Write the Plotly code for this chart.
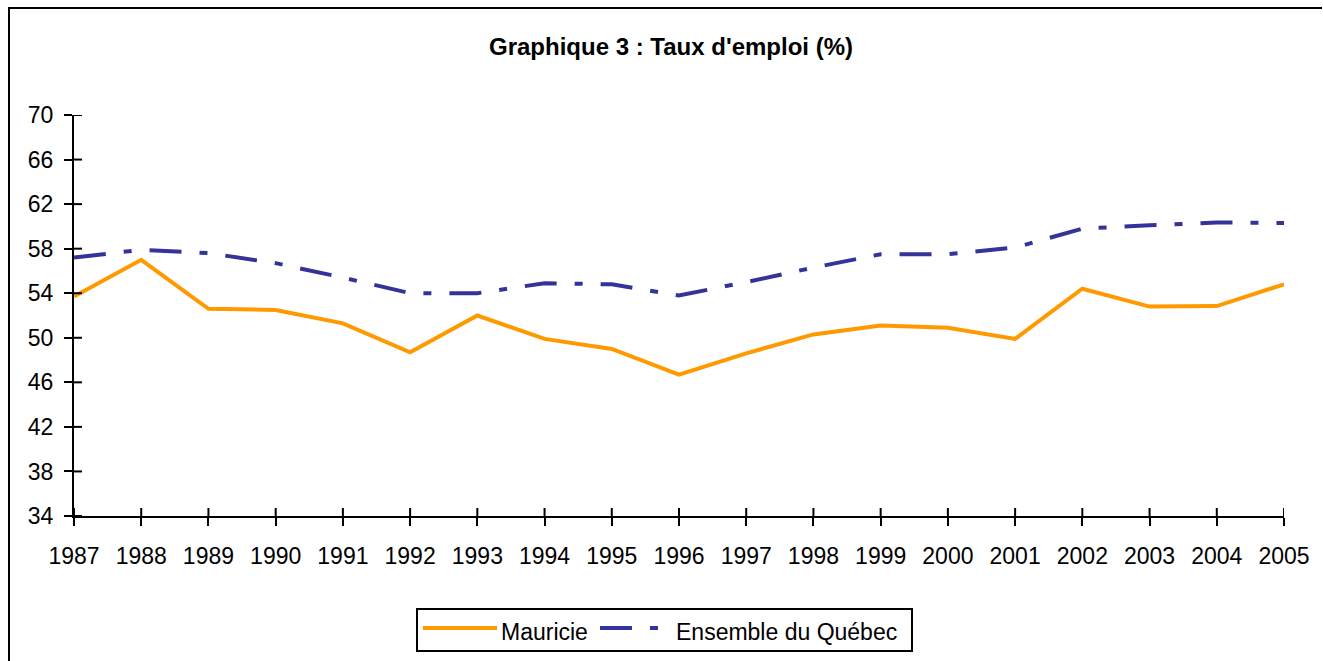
import plotly.graph_objects as go

years = list(range(1987, 2006))
mauricie = [53.7, 57.0, 52.6, 52.5, 51.3, 48.7, 52.0, 49.9, 49.0, 46.7,
            48.6, 50.3, 51.1, 50.9, 49.9, 54.4, 52.8, 52.85, 54.8]
quebec = [57.2, 57.9, 57.6, 56.7, 55.4, 54.0, 54.0, 54.9, 54.8, 53.8,
          55.0, 56.3, 57.5, 57.5, 58.1, 59.8, 60.1, 60.35, 60.3]
y_ticks = list(range(34, 71, 4))
title_text = "Graphique 3 : Taux d'emploi (%)"
names = ["Mauricie", "Ensemble du Québec"]

ORANGE = "#FF9900"
BLUE = "#333399"
FONT = "Arial, Liberation Sans, sans-serif"
DASH = "32px,18px,8px,18px"

W, H = 1323, 661
L, R, T, B = 74, 1284, 115, 516


def px(x):
    return (x - L) / (R - L)


def py(y):
    return (B - y) / (B - T)


fig = go.Figure()
fig.add_trace(go.Scatter(x=years, y=mauricie, name=names[0], mode="lines",
                         line=dict(color=ORANGE, width=4), showlegend=False))
fig.add_trace(go.Scatter(x=years, y=quebec, name=names[1], mode="lines",
                         line=dict(color=BLUE, width=4, dash=DASH), showlegend=False))

axis_common = dict(showgrid=False, zeroline=False, tickcolor="black", tickwidth=2)

fig.update_layout(
    width=W, height=H,
    margin=dict(l=L, r=W - R, t=T, b=H - B),
    paper_bgcolor="white", plot_bgcolor="white",
    font=dict(family=FONT, size=23, color="black"),
    title=dict(text="<b>" + title_text + "</b>", x=px(671), xref="paper",
               y=1 - 47 / H, yref="container", xanchor="center", yanchor="middle",
               font=dict(family=FONT, size=24, color="black")),
    xaxis=dict(range=[1987, 2005], tickmode="array", tickvals=years,
               ticktext=[str(y) for y in years], ticks="outside", ticklen=8,
               showline=True, linecolor="black", linewidth=2,
               ticklabelstandoff=10, **axis_common),
    yaxis=dict(range=[34, 70], tickmode="array", tickvals=y_ticks,
               ticks="outside", ticklen=8, showline=True, linecolor="black",
               linewidth=2, ticklabelstandoff=6, **axis_common),
)

shapes = []
# outer chart border (left and top visible) as one path in pixel offsets
shapes.append(dict(type="path", xref="paper", yref="paper",
                   path=f"M {px(9)},{py(661)} L {px(9)},{py(8)} L {px(1322)},{py(8)}",
                   line=dict(color="black", width=2)))
# inner halves of the crossing ticks (tick marks straddle the axes)
for v in y_ticks:
    shapes.append(dict(type="line", xref="paper", yref="y", x0=0, x1=px(82),
                       y0=v, y1=v, line=dict(color="black", width=2)))
for yr in years:
    shapes.append(dict(type="line", xref="x", yref="paper", x0=yr, x1=yr,
                       y0=0, y1=py(508), line=dict(color="black", width=2)))
# legend box
shapes.append(dict(type="rect", xref="paper", yref="paper",
                   x0=px(417), x1=px(912), y0=py(609), y1=py(651),
                   line=dict(color="black", width=2), fillcolor="white"))
# legend samples
shapes.append(dict(type="line", xref="paper", yref="paper",
                   x0=px(423), x1=px(497), y0=py(628), y1=py(628),
                   line=dict(color=ORANGE, width=4)))
shapes.append(dict(type="line", xref="paper", yref="paper",
                   x0=px(600), x1=px(672), y0=py(628), y1=py(628),
                   line=dict(color=BLUE, width=4, dash=DASH)))
fig.update_layout(shapes=shapes)

fig.add_annotation(text=names[0], xref="paper", yref="paper", x=px(499), y=py(632),
                   xanchor="left", yanchor="middle", showarrow=False,
                   font=dict(family=FONT, size=23, color="black"))
fig.add_annotation(text=names[1], xref="paper", yref="paper", x=px(674), y=py(632),
                   xanchor="left", yanchor="middle", showarrow=False,
                   font=dict(family=FONT, size=23, color="black"))

fig.write_html("out.html", config={"displayModeBar": False},
               post_script="document.documentElement.style.overflow='hidden';document.body.style.margin='0';document.body.style.overflow='hidden';")
